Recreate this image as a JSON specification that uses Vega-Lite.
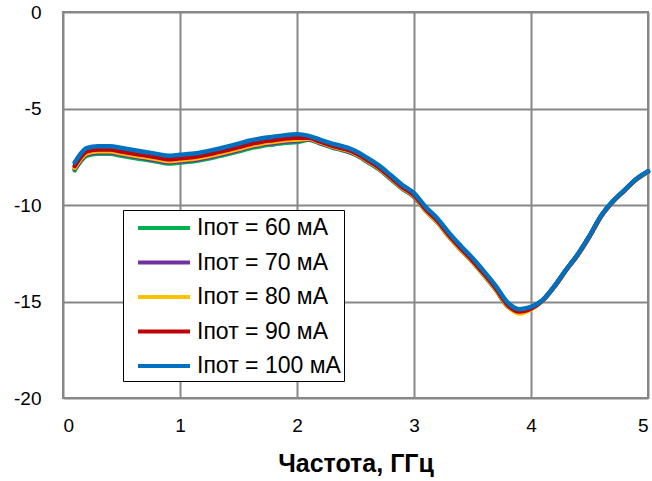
{
  "$schema": "https://vega.github.io/schema/vega-lite/v6.json",
  "width": 585,
  "height": 386,
  "autosize": "none",
  "padding": {"left": 63, "top": 12, "right": 4, "bottom": 83},
  "background": "white",
  "config": {
    "font": "Liberation Sans, Arial",
    "view": {"stroke": "#878787", "strokeWidth": 2},
    "axis": {"labelFont": "Liberation Sans, Arial", "labelColor": "black", "labelFontSize": 19, "gridColor": "#878787", "gridWidth": 2, "gridOpacity": 1, "ticks": false, "domain": false, "labelExpr": "replace(datum.label, '−', '-')"},
    "legend": {"labelFont": "Liberation Sans, Arial", "labelFontSize": 23, "labelColor": "black"}
  },
  "data": {"values": [
    {"f":0.1,"s":60,"v":-8.20},{"f":0.15,"s":60,"v":-7.75},{"f":0.2,"s":60,"v":-7.45},{"f":0.3,"s":60,"v":-7.35},{"f":0.4,"s":60,"v":-7.35},{"f":0.5,"s":60,"v":-7.45},{"f":0.6,"s":60,"v":-7.55},{"f":0.7,"s":60,"v":-7.65},{"f":0.8,"s":60,"v":-7.75},{"f":0.9,"s":60,"v":-7.85},{"f":1.0,"s":60,"v":-7.80},{"f":1.1,"s":60,"v":-7.75},{"f":1.2,"s":60,"v":-7.65},{"f":1.3,"s":60,"v":-7.52},{"f":1.4,"s":60,"v":-7.38},{"f":1.5,"s":60,"v":-7.22},{"f":1.6,"s":60,"v":-7.06},{"f":1.7,"s":60,"v":-6.94},{"f":1.8,"s":60,"v":-6.86},{"f":1.9,"s":60,"v":-6.78},{"f":2.0,"s":60,"v":-6.74},{"f":2.1,"s":60,"v":-6.62},{"f":2.2,"s":60,"v":-6.82},{"f":2.3,"s":60,"v":-7.02},{"f":2.4,"s":60,"v":-7.18},{"f":2.5,"s":60,"v":-7.40},{"f":2.6,"s":60,"v":-7.76},{"f":2.7,"s":60,"v":-8.15},{"f":2.8,"s":60,"v":-8.65},{"f":2.9,"s":60,"v":-9.16},{"f":3.0,"s":60,"v":-9.58},{"f":3.1,"s":60,"v":-10.30},{"f":3.2,"s":60,"v":-10.90},{"f":3.3,"s":60,"v":-11.65},{"f":3.4,"s":60,"v":-12.32},{"f":3.5,"s":60,"v":-12.95},{"f":3.6,"s":60,"v":-13.65},{"f":3.7,"s":60,"v":-14.40},{"f":3.8,"s":60,"v":-15.25},{"f":3.9,"s":60,"v":-15.50},{"f":4.0,"s":60,"v":-15.33},{"f":4.1,"s":60,"v":-14.94},{"f":4.2,"s":60,"v":-14.22},{"f":4.3,"s":60,"v":-13.37},{"f":4.4,"s":60,"v":-12.57},{"f":4.5,"s":60,"v":-11.62},{"f":4.6,"s":60,"v":-10.57},{"f":4.7,"s":60,"v":-9.82},{"f":4.8,"s":60,"v":-9.24},{"f":4.9,"s":60,"v":-8.67},{"f":5.0,"s":60,"v":-8.27},
    {"f":0.1,"s":70,"v":-8.13},{"f":0.15,"s":70,"v":-7.68},{"f":0.2,"s":70,"v":-7.38},{"f":0.3,"s":70,"v":-7.28},{"f":0.4,"s":70,"v":-7.28},{"f":0.5,"s":70,"v":-7.38},{"f":0.6,"s":70,"v":-7.48},{"f":0.7,"s":70,"v":-7.58},{"f":0.8,"s":70,"v":-7.68},{"f":0.9,"s":70,"v":-7.78},{"f":1.0,"s":70,"v":-7.73},{"f":1.1,"s":70,"v":-7.68},{"f":1.2,"s":70,"v":-7.58},{"f":1.3,"s":70,"v":-7.45},{"f":1.4,"s":70,"v":-7.31},{"f":1.5,"s":70,"v":-7.15},{"f":1.6,"s":70,"v":-6.99},{"f":1.7,"s":70,"v":-6.87},{"f":1.8,"s":70,"v":-6.79},{"f":1.9,"s":70,"v":-6.71},{"f":2.0,"s":70,"v":-6.67},{"f":2.1,"s":70,"v":-6.59},{"f":2.2,"s":70,"v":-6.79},{"f":2.3,"s":70,"v":-6.99},{"f":2.4,"s":70,"v":-7.15},{"f":2.5,"s":70,"v":-7.37},{"f":2.6,"s":70,"v":-7.73},{"f":2.7,"s":70,"v":-8.12},{"f":2.8,"s":70,"v":-8.62},{"f":2.9,"s":70,"v":-9.13},{"f":3.0,"s":70,"v":-9.55},{"f":3.1,"s":70,"v":-10.28},{"f":3.2,"s":70,"v":-10.88},{"f":3.3,"s":70,"v":-11.63},{"f":3.4,"s":70,"v":-12.30},{"f":3.5,"s":70,"v":-12.93},{"f":3.6,"s":70,"v":-13.63},{"f":3.7,"s":70,"v":-14.38},{"f":3.8,"s":70,"v":-15.23},{"f":3.9,"s":70,"v":-15.55},{"f":4.0,"s":70,"v":-15.36},{"f":4.1,"s":70,"v":-14.94},{"f":4.2,"s":70,"v":-14.22},{"f":4.3,"s":70,"v":-13.37},{"f":4.4,"s":70,"v":-12.57},{"f":4.5,"s":70,"v":-11.62},{"f":4.6,"s":70,"v":-10.57},{"f":4.7,"s":70,"v":-9.82},{"f":4.8,"s":70,"v":-9.24},{"f":4.9,"s":70,"v":-8.67},{"f":5.0,"s":70,"v":-8.27},
    {"f":0.1,"s":80,"v":-8.07},{"f":0.15,"s":80,"v":-7.62},{"f":0.2,"s":80,"v":-7.32},{"f":0.3,"s":80,"v":-7.22},{"f":0.4,"s":80,"v":-7.22},{"f":0.5,"s":80,"v":-7.32},{"f":0.6,"s":80,"v":-7.42},{"f":0.7,"s":80,"v":-7.52},{"f":0.8,"s":80,"v":-7.62},{"f":0.9,"s":80,"v":-7.72},{"f":1.0,"s":80,"v":-7.67},{"f":1.1,"s":80,"v":-7.62},{"f":1.2,"s":80,"v":-7.52},{"f":1.3,"s":80,"v":-7.39},{"f":1.4,"s":80,"v":-7.25},{"f":1.5,"s":80,"v":-7.09},{"f":1.6,"s":80,"v":-6.93},{"f":1.7,"s":80,"v":-6.81},{"f":1.8,"s":80,"v":-6.73},{"f":1.9,"s":80,"v":-6.65},{"f":2.0,"s":80,"v":-6.61},{"f":2.1,"s":80,"v":-6.56},{"f":2.2,"s":80,"v":-6.76},{"f":2.3,"s":80,"v":-6.96},{"f":2.4,"s":80,"v":-7.12},{"f":2.5,"s":80,"v":-7.34},{"f":2.6,"s":80,"v":-7.70},{"f":2.7,"s":80,"v":-8.09},{"f":2.8,"s":80,"v":-8.59},{"f":2.9,"s":80,"v":-9.10},{"f":3.0,"s":80,"v":-9.52},{"f":3.1,"s":80,"v":-10.28},{"f":3.2,"s":80,"v":-10.88},{"f":3.3,"s":80,"v":-11.63},{"f":3.4,"s":80,"v":-12.30},{"f":3.5,"s":80,"v":-12.93},{"f":3.6,"s":80,"v":-13.63},{"f":3.7,"s":80,"v":-14.38},{"f":3.8,"s":80,"v":-15.23},{"f":3.9,"s":80,"v":-15.62},{"f":4.0,"s":80,"v":-15.40},{"f":4.1,"s":80,"v":-14.95},{"f":4.2,"s":80,"v":-14.23},{"f":4.3,"s":80,"v":-13.38},{"f":4.4,"s":80,"v":-12.58},{"f":4.5,"s":80,"v":-11.63},{"f":4.6,"s":80,"v":-10.58},{"f":4.7,"s":80,"v":-9.83},{"f":4.8,"s":80,"v":-9.25},{"f":4.9,"s":80,"v":-8.68},{"f":5.0,"s":80,"v":-8.28},
    {"f":0.1,"s":90,"v":-7.98},{"f":0.15,"s":90,"v":-7.53},{"f":0.2,"s":90,"v":-7.23},{"f":0.3,"s":90,"v":-7.13},{"f":0.4,"s":90,"v":-7.13},{"f":0.5,"s":90,"v":-7.23},{"f":0.6,"s":90,"v":-7.33},{"f":0.7,"s":90,"v":-7.43},{"f":0.8,"s":90,"v":-7.53},{"f":0.9,"s":90,"v":-7.63},{"f":1.0,"s":90,"v":-7.58},{"f":1.1,"s":90,"v":-7.53},{"f":1.2,"s":90,"v":-7.43},{"f":1.3,"s":90,"v":-7.30},{"f":1.4,"s":90,"v":-7.16},{"f":1.5,"s":90,"v":-7.00},{"f":1.6,"s":90,"v":-6.84},{"f":1.7,"s":90,"v":-6.72},{"f":1.8,"s":90,"v":-6.64},{"f":1.9,"s":90,"v":-6.56},{"f":2.0,"s":90,"v":-6.52},{"f":2.1,"s":90,"v":-6.52},{"f":2.2,"s":90,"v":-6.72},{"f":2.3,"s":90,"v":-6.92},{"f":2.4,"s":90,"v":-7.08},{"f":2.5,"s":90,"v":-7.30},{"f":2.6,"s":90,"v":-7.66},{"f":2.7,"s":90,"v":-8.05},{"f":2.8,"s":90,"v":-8.55},{"f":2.9,"s":90,"v":-9.06},{"f":3.0,"s":90,"v":-9.48},{"f":3.1,"s":90,"v":-10.22},{"f":3.2,"s":90,"v":-10.82},{"f":3.3,"s":90,"v":-11.57},{"f":3.4,"s":90,"v":-12.24},{"f":3.5,"s":90,"v":-12.87},{"f":3.6,"s":90,"v":-13.57},{"f":3.7,"s":90,"v":-14.32},{"f":3.8,"s":90,"v":-15.17},{"f":3.9,"s":90,"v":-15.52},{"f":4.0,"s":90,"v":-15.36},{"f":4.1,"s":90,"v":-14.94},{"f":4.2,"s":90,"v":-14.22},{"f":4.3,"s":90,"v":-13.37},{"f":4.4,"s":90,"v":-12.57},{"f":4.5,"s":90,"v":-11.62},{"f":4.6,"s":90,"v":-10.57},{"f":4.7,"s":90,"v":-9.82},{"f":4.8,"s":90,"v":-9.24},{"f":4.9,"s":90,"v":-8.67},{"f":5.0,"s":90,"v":-8.27},
    {"f":0.1,"s":100,"v":-7.80},{"f":0.15,"s":100,"v":-7.35},{"f":0.2,"s":100,"v":-7.05},{"f":0.3,"s":100,"v":-6.95},{"f":0.4,"s":100,"v":-6.95},{"f":0.5,"s":100,"v":-7.05},{"f":0.6,"s":100,"v":-7.15},{"f":0.7,"s":100,"v":-7.25},{"f":0.8,"s":100,"v":-7.35},{"f":0.9,"s":100,"v":-7.45},{"f":1.0,"s":100,"v":-7.40},{"f":1.1,"s":100,"v":-7.35},{"f":1.2,"s":100,"v":-7.25},{"f":1.3,"s":100,"v":-7.12},{"f":1.4,"s":100,"v":-6.98},{"f":1.5,"s":100,"v":-6.82},{"f":1.6,"s":100,"v":-6.66},{"f":1.7,"s":100,"v":-6.54},{"f":1.8,"s":100,"v":-6.46},{"f":1.9,"s":100,"v":-6.38},{"f":2.0,"s":100,"v":-6.34},{"f":2.1,"s":100,"v":-6.42},{"f":2.2,"s":100,"v":-6.62},{"f":2.3,"s":100,"v":-6.82},{"f":2.4,"s":100,"v":-6.98},{"f":2.5,"s":100,"v":-7.20},{"f":2.6,"s":100,"v":-7.56},{"f":2.7,"s":100,"v":-7.95},{"f":2.8,"s":100,"v":-8.45},{"f":2.9,"s":100,"v":-8.96},{"f":3.0,"s":100,"v":-9.38},{"f":3.1,"s":100,"v":-10.10},{"f":3.2,"s":100,"v":-10.70},{"f":3.3,"s":100,"v":-11.45},{"f":3.4,"s":100,"v":-12.12},{"f":3.5,"s":100,"v":-12.75},{"f":3.6,"s":100,"v":-13.45},{"f":3.7,"s":100,"v":-14.20},{"f":3.8,"s":100,"v":-15.05},{"f":3.9,"s":100,"v":-15.40},{"f":4.0,"s":100,"v":-15.28},{"f":4.1,"s":100,"v":-14.92},{"f":4.2,"s":100,"v":-14.20},{"f":4.3,"s":100,"v":-13.35},{"f":4.4,"s":100,"v":-12.55},{"f":4.5,"s":100,"v":-11.60},{"f":4.6,"s":100,"v":-10.55},{"f":4.7,"s":100,"v":-9.80},{"f":4.8,"s":100,"v":-9.22},{"f":4.9,"s":100,"v":-8.65},{"f":5.0,"s":100,"v":-8.25}
  ]},
  "mark": {"type": "line", "strokeWidth": 4.5, "interpolate": "monotone", "strokeCap": "round"},
  "encoding": {
    "x": {"field": "f", "type": "quantitative", "scale": {"domain": [0, 5], "nice": false},
      "axis": {"values": [0, 1, 2, 3, 4, 5], "labelPadding": 18, "title": "Частота, ГГц", "titleFontSize": 25, "titleFontWeight": "bold", "titleColor": "black", "titlePadding": 16, "titleFont": "Liberation Sans, Arial"}},
    "y": {"field": "v", "type": "quantitative", "scale": {"domain": [-20, 0], "nice": false},
      "axis": {"values": [0, -5, -10, -15, -20], "labelPadding": 22, "title": null}},
    "color": {"field": "s", "type": "nominal",
      "scale": {"domain": [60, 70, 80, 90, 100], "range": ["#00B050", "#7030A0", "#FFC000", "#C00000", "#0070C0"]},
      "legend": {"title": null, "orient": "none", "legendX": 60, "legendY": 198, "symbolType": "M-2,0H2", "symbolSize": 676, "symbolStrokeWidth": 4, "symbolOffset": 23, "labelOffset": 18, "labelExpr": "'Iпот = ' + datum.label + ' мА\u2002  '", "strokeColor": "black", "fillColor": "white", "padding": 3, "rowPadding": 7.5}}
  }
}
